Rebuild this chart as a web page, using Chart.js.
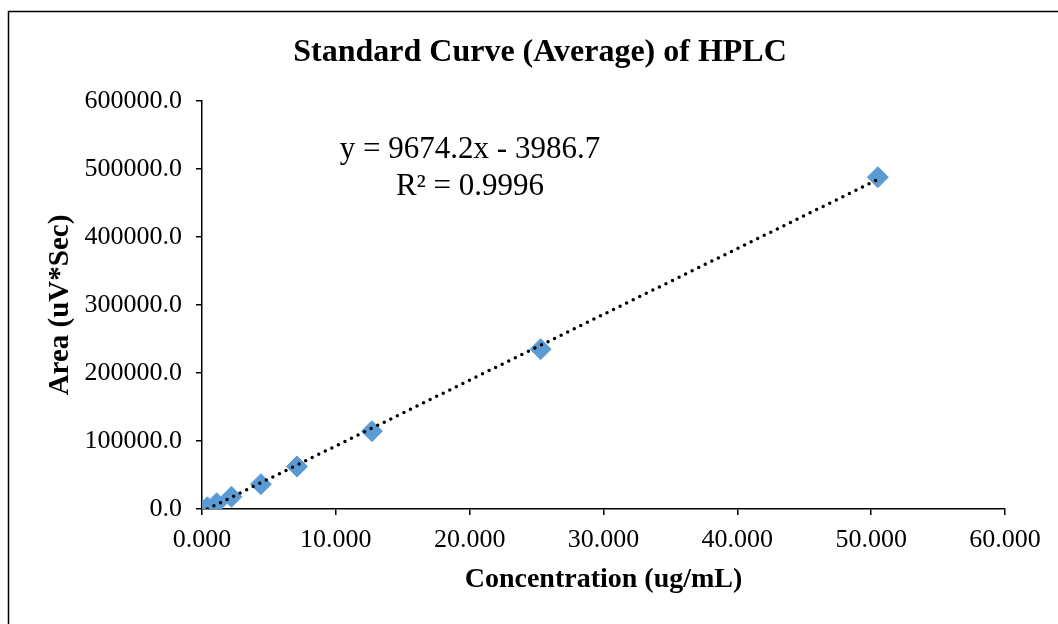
<!DOCTYPE html>
<html lang="en">
<head>
    <meta charset="UTF-8">
    <title>Standard Curve (Average) of HPLC</title>
    <script src="https://cdn.jsdelivr.net/npm/chart.js"></script>
    <style>
        body { margin: 0; background: #fff; }
        .grafico { width: 1058px; height: 624px; }
    </style>
</head>
<body>
<div class="grafico">
    <canvas id="curvaChart" width="1058" height="624"></canvas>
</div>
<script>
    // Dados da curva padrão (média)
    const concentracoes = [0.4, 1.1, 2.2, 4.4, 7.1, 12.7, 25.3, 50.5];
    const areas = [2500, 8500, 18000, 36500, 62500, 114500, 235000, 488000];

    // Linha de tendência (regressão linear)
    const inclinacao = 9674.2;
    const intercepto = -3986.7;
    const r2 = 0.9996;

    const xTicks = [0, 10, 20, 30, 40, 50, 60];
    const yTicks = [0, 100000, 200000, 300000, 400000, 500000, 600000];

    const xMin = Math.min(...concentracoes);
    const xMax = Math.max(...concentracoes);
    const tendencia = [
        { x: xMin, y: inclinacao * xMin + intercepto },
        { x: xMax, y: inclinacao * xMax + intercepto }
    ];

    const fonte = '"Liberation Serif", "Times New Roman", serif';
    const titulo = 'Standard Curve (Average) of HPLC';

    // moldura, título e equação da reta
    const extras = {
        id: 'extras',
        afterDraw(chart) {
            const ctx = chart.ctx;
            ctx.save();
            ctx.strokeStyle = '#000';
            ctx.lineWidth = 1.5;
            ctx.beginPath();
            ctx.moveTo(8.5, 700);
            ctx.lineTo(8.5, 11.5);
            ctx.lineTo(1100, 11.5);
            ctx.stroke();

            ctx.fillStyle = '#000';
            ctx.textAlign = 'center';
            ctx.textBaseline = 'middle';
            ctx.font = 'bold 32px ' + fonte;
            ctx.fillText(titulo, 540, 53);

            ctx.font = '31px ' + fonte;
            const sinal = intercepto < 0 ? ' - ' : ' + ';
            ctx.fillText('y = ' + inclinacao.toFixed(1) + 'x' + sinal + Math.abs(intercepto).toFixed(1), 470, 150);
            ctx.fillText('R² = ' + r2.toFixed(4), 470, 187);
            ctx.restore();
        }
    };

    const ctx = document.getElementById('curvaChart').getContext('2d');
    new Chart(ctx, {
        type: 'scatter',
        data: {
            datasets: [
                {
                    type: 'line',
                    label: 'Linear',
                    data: tendencia,
                    borderColor: '#000',
                    borderWidth: 3.5,
                    borderDash: [0, 7.3],
                    borderCapStyle: 'round',
                    pointRadius: 0,
                    fill: false,
                    order: 0
                },
                {
                    label: 'Área',
                    data: concentracoes.map((c, i) => ({ x: c, y: areas[i] })),
                    pointStyle: 'rectRot',
                    pointRadius: 10.5,
                    pointHoverRadius: 10.5,
                    backgroundColor: '#5B9BD5',
                    borderColor: '#5B9BD5',
                    borderWidth: 1,
                    order: 1
                }
            ]
        },
        options: {
            responsive: false,
            animation: false,
            layout: { padding: { left: 0, right: 53, top: 101, bottom: 0 } },
            plugins: {
                legend: { display: false },
                tooltip: { enabled: false },
                title: { display: false }
            },
            scales: {
                x: {
                    type: 'linear',
                    min: 0,
                    max: 60,
                    afterFit(scale) { scale.height = 115; },
                    afterBuildTicks(scale) { scale.ticks = xTicks.map(v => ({ value: v })); },
                    ticks: {
                        color: '#000',
                        padding: 10,
                        font: { family: fonte, size: 26 },
                        callback: v => v.toFixed(3)
                    },
                    grid: { drawOnChartArea: false, drawTicks: true, tickLength: 6, color: '#000', lineWidth: 1.5 },
                    border: { display: true, color: '#000', width: 1.5 },
                    title: {
                        display: true,
                        text: 'Concentration (ug/mL)',
                        color: '#000',
                        font: { family: fonte, size: 28, weight: 'bold', lineHeight: 1.2 },
                        padding: { top: 0, bottom: 27 }
                    }
                },
                y: {
                    type: 'linear',
                    min: 0,
                    max: 600000,
                    afterFit(scale) { scale.width = 202; },
                    afterBuildTicks(scale) { scale.ticks = yTicks.map(v => ({ value: v })); },
                    ticks: {
                        color: '#000',
                        padding: 14,
                        font: { family: fonte, size: 26 },
                        callback: v => v.toFixed(1)
                    },
                    grid: { drawOnChartArea: false, drawTicks: true, tickLength: 6, color: '#000', lineWidth: 1.5 },
                    border: { display: true, color: '#000', width: 1.5 },
                    title: {
                        display: true,
                        text: 'Area (uV*Sec)',
                        color: '#000',
                        font: { family: fonte, size: 29, weight: 'bold', lineHeight: 1.2 },
                        padding: { top: 43, bottom: 0 }
                    }
                }
            }
        },
        plugins: [extras]
    });
</script>
</body>
</html>
